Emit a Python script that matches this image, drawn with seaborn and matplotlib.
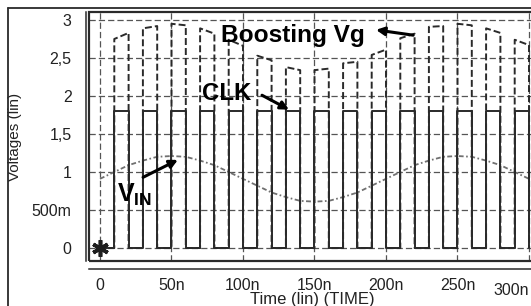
import matplotlib
matplotlib.use("Agg")
import matplotlib.pyplot as plt
import seaborn as sns
import pandas as pd
from matplotlib.lines import Line2D
from matplotlib.patches import Rectangle
from matplotlib.ticker import FixedLocator, MultipleLocator

# waveform values (time in ns, volts)
clk_rise = [10, 30, 50, 70, 90, 110, 130, 150, 170, 190, 210, 230, 250, 270, 290]
clk_fall = [20, 40, 60, 80, 100, 120, 140, 160, 180, 200, 220, 240, 260, 280, 300]
clk_high = 1.8
vg_top_start = [2.75, 2.89, 2.95, 2.89, 2.74, 2.53, 2.38, 2.34, 2.43, 2.54, 2.76, 2.91, 2.95, 2.89, 2.74]
vg_top_end = [2.83, 2.92, 2.93, 2.82, 2.66, 2.47, 2.34, 2.36, 2.45, 2.61, 2.82, 2.92, 2.93, 2.83, 2.67]
vin_t = [0, 10, 20, 30, 40, 50, 60, 70, 80, 90, 100, 110, 120, 130, 140, 150,
         160, 170, 180, 190, 200, 210, 220, 230, 240, 250, 260, 270, 280, 290, 300]
vin_v = [0.91, 1.00, 1.09, 1.15, 1.20, 1.21, 1.20, 1.15, 1.09, 1.00, 0.91,
         0.82, 0.73, 0.67, 0.62, 0.61, 0.62, 0.67, 0.73, 0.82, 0.91,
         1.00, 1.09, 1.15, 1.20, 1.21, 1.20, 1.15, 1.09, 1.00, 0.91]
marker_t = [0]
marker_v = [0]
x_ticks = [0, 50, 100, 150, 200, 250, 300]
x_tick_labels = ["0", "50n", "100n", "150n", "200n", "250n", "300n"]
y_ticks = [0, 0.5, 1, 1.5, 2, 2.5, 3]
y_tick_labels = ["0", "500m", "1", "1,5", "2", "2,5", "3"]

sns.set_theme(style="white")
plt.rcParams["font.family"] = ["Liberation Sans", "DejaVu Sans"]
plt.rcParams["lines.scale_dashes"] = False
plt.rcParams["mathtext.fontset"] = "custom"
plt.rcParams["mathtext.bf"] = "Liberation Sans:bold"
plt.rcParams["mathtext.rm"] = "Liberation Sans"

# build step waveforms from the edge lists
clk_t, clk_v, vg_t, vg_v = [0], [0], [0], [0]
for r, f, a, b in zip(clk_rise, clk_fall, vg_top_start, vg_top_end):
    clk_t += [r, r, f, f]
    clk_v += [0, clk_high, clk_high, 0]
    vg_t += [r, r, f, f]
    vg_v += [0, a, b, 0]
clk = pd.DataFrame({"t": clk_t, "v": clk_v})
vg = pd.DataFrame({"t": vg_t, "v": vg_v})
vin = pd.DataFrame({"t": vin_t, "v": vin_v})

ink = "#2a2a2a"
fig = plt.figure(figsize=(5.31, 3.06), dpi=100)
ax = fig.add_axes([89 / 531, 45 / 306, 446 / 531, 249 / 306])
ax.set_xlim(-7.69, 304.2)
ax.set_ylim(-0.171, 3.105)

ax.grid(True, which="major", linestyle=(0, (4.5, 2.2)), linewidth=0.9, color="#555555")
ax.set_axisbelow(True)

sns.lineplot(data=vin, x="t", y="v", ax=ax, estimator=None, sort=False,
             color="#707070", linewidth=1.3, linestyle=(0, (3.5, 1.8, 1.2, 1.8)))
sns.lineplot(data=clk, x="t", y="v", ax=ax, estimator=None, sort=False,
             color=ink, linewidth=1.4)
sns.lineplot(data=vg, x="t", y="v", ax=ax, estimator=None, sort=False,
             color=ink, linewidth=1.4, linestyle=(0, (5, 2.2)))
ax.plot(marker_t, marker_v, linestyle="none", marker=(6, 2, 0), markersize=12,
        markeredgewidth=2.6, color="#1e1e1e", clip_on=False, zorder=5)

# annotations
ax.text(84.6, 2.71, "Boosting Vg", fontsize=17.6, fontweight="bold", color="black",
        ha="left", va="baseline")
ax.annotate("", xy=(193, 2.87), xytext=(219, 2.80),
            arrowprops=dict(arrowstyle="-|>", color="black", lw=2.2, mutation_scale=12,
                            shrinkA=0, shrinkB=0))
ax.text(71.3, 1.95, "CLK", fontsize=17.3, fontweight="bold", color="black",
        ha="left", va="baseline")
ax.annotate("", xy=(132.2, 1.82), xytext=(113.3, 2.01),
            arrowprops=dict(arrowstyle="-|>", color="black", lw=2.2, mutation_scale=12,
                            shrinkA=0, shrinkB=0))
ax.text(11.9, 0.605, r"$\mathbf{V_{IN}}$", fontsize=18, color="black",
        ha="left", va="baseline")
ax.annotate("", xy=(54.5, 1.16), xytext=(30.1, 0.93),
            arrowprops=dict(arrowstyle="-|>", color="black", lw=2.2, mutation_scale=12,
                            shrinkA=0, shrinkB=0))

# axes styling like the waveform viewer
for s in ["top", "right"]:
    ax.spines[s].set_visible(False)
ax.spines["left"].set_position(("outward", 2.5))
ax.spines["bottom"].set_position(("outward", 5.8))
for s in ["left", "bottom"]:
    ax.spines[s].set_color(ink)
    ax.spines[s].set_linewidth(1.1)
ax.add_patch(Rectangle((0, 0), 1, 1, transform=ax.transAxes, fill=False,
                       edgecolor=ink, linewidth=1.6, clip_on=False))

ax.xaxis.set_major_locator(FixedLocator(x_ticks))
ax.set_xticklabels(x_tick_labels)
ax.xaxis.set_minor_locator(MultipleLocator(10))
ax.yaxis.set_major_locator(FixedLocator(y_ticks))
ax.set_yticklabels(y_tick_labels)
ax.yaxis.set_minor_locator(MultipleLocator(0.25))
ax.tick_params(which="both", direction="out", color=ink, width=1, labelcolor="#222222")
ax.tick_params(which="major", length=4.5, labelsize=11.5)
ax.tick_params(which="minor", length=3)
ax.tick_params(axis="x", pad=2)
ax.tick_params(axis="y", pad=5.5)
last = ax.xaxis.get_major_ticks()[-1].label1
last.set_y(-0.02)
last.set_horizontalalignment("right")

ax.set_xlabel("Time (lin) (TIME)", fontsize=12, color="#222222")
ax.xaxis.set_label_coords(0.5, -0.126)
ax.set_ylabel("Voltages (lin)", fontsize=11, color="#222222")
ax.yaxis.set_label_coords(-0.150, 0.5)

# outer viewer frame
fig.add_artist(Line2D([8 / 531, 8 / 531], [0, 1 - 8 / 306], transform=fig.transFigure,
                      color=ink, linewidth=1.3))
fig.add_artist(Line2D([8 / 531, 1], [1 - 8 / 306, 1 - 8 / 306], transform=fig.transFigure,
                      color=ink, linewidth=1.3))

fig.savefig("out.png", dpi=100)
